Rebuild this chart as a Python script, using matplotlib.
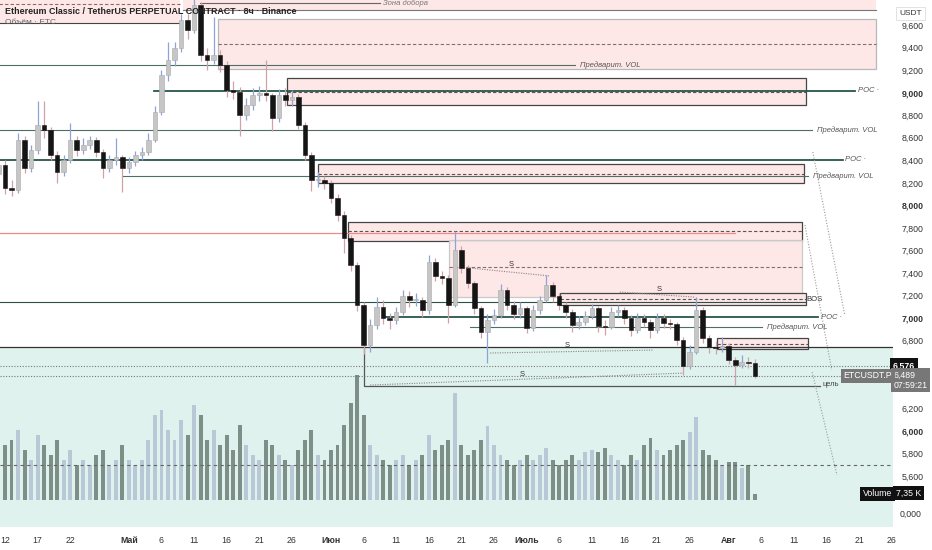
import numpy as np
import pandas as pd
import matplotlib
matplotlib.use('Agg')
import matplotlib.pyplot as plt
from matplotlib.patches import Rectangle

plt.rcParams['font.family'] = ['Liberation Sans Narrow', 'Liberation Sans', 'DejaVu Sans']

# --- данные свечей (дневные) ---
base = pd.Timestamp('2024-04-12')
dates = pd.date_range('2024-04-11', periods=117, freq='D')
close = [8358, 8154, 8136, 8580, 8332, 8491, 8713, 8669, 8447, 8296, 8403, 8580, 8491, 8536, 8580,
         8474, 8332, 8403, 8429, 8332, 8385, 8447, 8474, 8580, 8828, 9157, 9290, 9396, 9644, 9556,
         9777, 9334, 9290, 9334, 9245, 9023, 9006, 8802, 8890, 8979, 8997, 8979, 8775, 8979, 8935,
         8961, 8713, 8447, 8225, 8225, 8199, 8065, 7915, 7711, 7471, 7116, 6762, 6939, 7099, 7001,
         6983, 7054, 7196, 7161, 7161, 7072, 7498, 7374, 7356, 7116, 7604, 7445, 7312, 7090, 6877,
         6983, 7028, 7250, 7116, 7037, 7090, 6912, 7072, 7161, 7294, 7196, 7116, 7054, 6939, 6966,
         7019, 7090, 6930, 6921, 7054, 7072, 7001, 6895, 7001, 6966, 6895, 7001, 6957, 6948, 6806,
         6575, 6700, 7072, 6824, 6744, 6735, 6753, 6629, 6584, 6611, 6602, 6489]
high = [8420, 8400, 8230, 8640, 8620, 8540, 8930, 8930, 8700, 8480, 8450, 8730, 8620, 8600, 8620,
        8610, 8500, 8450, 8600, 8450, 8430, 8480, 8520, 8640, 8880, 9200, 9450, 9450, 9700, 9700,
        9900, 9800, 9400, 9670, 9380, 9280, 9100, 9050, 8950, 9040, 9060, 9290, 9000, 9030, 9040,
        9020, 8990, 8740, 8470, 8300, 8260, 8230, 8100, 7950, 7740, 7500, 7140, 6990, 7190, 7160,
        7050, 7100, 7250, 7240, 7220, 7190, 7560, 7530, 7420, 7380, 7770, 7640, 7470, 7330, 7110,
        7040, 7080, 7300, 7280, 7150, 7140, 7110, 7120, 7200, 7380, 7320, 7220, 7140, 7080, 7020,
        7060, 7130, 7110, 6980, 7100, 7120, 7100, 7030, 7050, 7040, 6990, 7050, 7040, 6990, 6970,
        6830, 6760, 7190, 7100, 6850, 6800, 6830, 6780, 6660, 6670, 6660, 6640]
low = [8250, 8100, 8080, 8110, 8290, 8300, 8460, 8600, 8400, 8200, 8260, 8380, 8440, 8460, 8500,
       8430, 8240, 8300, 8360, 8120, 8290, 8350, 8400, 8450, 8560, 8800, 9100, 9240, 9360, 9480,
       9530, 9280, 9200, 9250, 9180, 8960, 8940, 8620, 8760, 8850, 8930, 8930, 8660, 8740, 8880,
       8880, 8680, 8400, 8130, 8160, 8150, 8020, 7860, 7580, 7420, 7060, 6680, 6700, 6900, 6950,
       6900, 6950, 7030, 7100, 7110, 7010, 7040, 7330, 7300, 6960, 7100, 7400, 7270, 7040, 6820,
       6600, 6950, 7000, 7070, 6990, 7000, 6870, 6890, 7040, 7140, 7140, 7070, 7000, 6880, 6900,
       6940, 6990, 6880, 6850, 6900, 7020, 6950, 6840, 6870, 6920, 6820, 6870, 6910, 6900, 6760,
       6500, 6550, 6680, 6780, 6690, 6680, 6700, 6590, 6410, 6560, 6560, 6470]
volume_k = [55, 67, 74, 86, 61, 49, 80, 67, 55, 74, 49, 61, 43, 49, 43, 55, 61, 43, 49, 67,
            49, 43, 49, 74, 104, 110, 86, 74, 98, 80, 116, 104, 74, 86, 67, 80, 61, 92, 67, 55,
            49, 74, 67, 55, 49, 43, 61, 74, 86, 55, 49, 61, 67, 92, 119, 153, 104, 67, 55, 49,
            43, 49, 55, 43, 49, 55, 80, 61, 67, 74, 131, 67, 55, 61, 74, 91, 67, 55, 49, 43,
            49, 55, 49, 55, 64, 49, 43, 49, 55, 49, 59, 61, 59, 64, 55, 49, 43, 55, 49, 67,
            76, 61, 55, 61, 67, 74, 83, 102, 61, 55, 49, 43, 47, 47, 39, 43, 7.35]
open_ = [8280] + close[:-1]

# --- уровни и зоны (цена, день от 12 апреля) ---
poc = [(9015, 22.9, 130.4), (8403, None, 128.5), (7010, 58.0, 124.7)]
pre_vol = [(9245, None, 87.4), (8669, None, 123.8), (8261, 17.9, 123.2), (6921, 71.3, 116.1)]
red_level = (7755, None, 112.0)
bos_level = (7143, None, 122.7)
target_level = 6400
target_start, target_end, target_top = 55.1, 125.0, 6779
support_level = 6744
last_levels = [6576, 6489]
vol_dash_level = 5700
# (день начала, день конца, низ, верх, середина, рамка)
zones = [(-1.0, 26.8, 9618, 9900, 9786, None),
         (27.3, 133.6, 9733, 9900, None, None),
         (32.7, 133.6, 9210, 9653, 9431, '#b5b5b5'),
         (43.3, 122.9, 8890, 9130, 9006, '#3c3c3c'),
         (48.0, 122.5, 8199, 8367, 8278, '#3c3c3c'),
         (52.6, 122.2, 7684, 7853, 7773, '#3c3c3c'),
         (68.1, 122.2, 7187, 7693, 7453, '#c8c8c8'),
         (85.1, 122.9, 7116, 7223, 7170, '#3c3c3c'),
         (109.2, 123.2, 6726, 6824, 6770, '#3c3c3c')]
sweeps = [((71.3, 7445), (83.6, 7374), (77.6, 7480)),
          ((94.3, 7232), (105.8, 7187), (100.3, 7258)),
          ((74.4, 6691), (99.4, 6717), (86.3, 6762)),
          ((56.0, 6407), (104.0, 6513), (79.4, 6504))]
projections = [((123.9, 8474), (128.8, 7028)),
               ((122.7, 7826), (126.8, 6540)),
               ((123.8, 6522), (127.6, 5609))]

tick_dates = ['2024-04-12', '2024-04-17', '2024-04-22', '2024-05-01', '2024-05-06', '2024-05-11',
              '2024-05-16', '2024-05-21', '2024-05-26', '2024-06-01', '2024-06-06', '2024-06-11',
              '2024-06-16', '2024-06-21', '2024-06-26', '2024-07-01', '2024-07-06', '2024-07-11',
              '2024-07-16', '2024-07-21', '2024-07-26', '2024-08-01', '2024-08-06', '2024-08-11',
              '2024-08-16', '2024-08-21', '2024-08-26']
tick_labels = ['12', '17', '22', 'Май', '6', '11', '16', '21', '26', 'Июн', '6', '11', '16', '21',
               '26', 'Июль', '6', '11', '16', '21', '26', 'Авг', '6', '11', '16', '21', '26']
price_ticks = [5600, 5800, 6000, 6200, 6800, 7000, 7200, 7400, 7600, 7800, 8000, 8200, 8400,
               8600, 8800, 9000, 9200, 9400, 9600]

# --- фигура ---
fig = plt.figure(figsize=(9.32, 5.5), dpi=100)
ax2 = fig.add_axes([0, 23 / 550, 893 / 932, 527 / 550])
ax = fig.add_axes([0, 23 / 550, 893 / 932, 527 / 550], sharex=ax2)
ax.patch.set_visible(False)
xl = (-0.77, 136.2)
yl = (5148, 9822)
ax.set_xlim(*xl)
ax.set_ylim(*yl)
k_per_px = 7.35 / 6
ax2.set_ylim(-27 * k_per_px, 500 * k_per_px)

x = np.array([(d - base).days for d in dates], dtype=float)
o = np.array(open_, float)
c = np.array(close, float)
h = np.array(high, float)
l = np.array(low, float)
up = c >= o

# бирюзовая зона и объём (нижний слой)
ax2.add_patch(Rectangle((xl[0], 5148), xl[1] - xl[0], support_level - 5148,
                        transform=ax.transData, facecolor='#dff2ee', edgecolor='none', zorder=0))
ax2.bar(x, volume_k, width=0.6, color=np.where(up, '#b8c8d6', '#7d8f86'), zorder=2)
ax2.set_yticks([])
ax2.tick_params(axis='x', length=0, labelbottom=False)
for s in ax2.spines.values():
    s.set_visible(False)

# зоны
for x0, x1, y0, y1, mid, edge in zones:
    ax.add_patch(Rectangle((x0, y0), x1 - x0, y1 - y0, facecolor='#fde6e6',
                           edgecolor=edge if edge else 'none', lw=0.9, alpha=0.95, zorder=1))
    if mid is not None:
        ax.plot([x0, x1], [mid, mid], ls=(0, (3, 2)), color='#8a6a6a' if edge != '#3c3c3c' else '#555555',
                lw=0.8, zorder=2)
ax.plot([27.3, 133.6], [9733, 9733], color='#777777', lw=0.8, zorder=2)
ax.plot([29.9, 57.5], [9795, 9795], color='#666666', lw=0.8, zorder=2)
ax.text(58.0, 9795, 'Зона добора', fontsize=5.5, style='italic', color='#777777', va='center', zorder=3)
ax.plot([xl[0], 26.8], [9618, 9618], color='#444444', lw=0.8, zorder=2)

# горизонтальные уровни
for lev, s0, s1 in poc:
    ax.plot([xl[0] if s0 is None else s0, s1], [lev, lev], color='#28564a', lw=1.3, zorder=3)
    ax.text(s1 + 0.4, lev, 'POC ·', fontsize=5.5, color='#555555', va='center', style='italic')
for lev, s0, s1 in pre_vol:
    ax.plot([xl[0] if s0 is None else s0, s1], [lev, lev], color='#4f6f66', lw=0.8, zorder=3)
    ax.text(s1 + 0.8, lev, 'Предварит. VOL', fontsize=5.5, color='#555555', va='center',
            style='italic')
ax.plot([xl[0], red_level[2]], [red_level[0]] * 2, color='#f08a8a', lw=0.9, zorder=3)
ax.plot([xl[0], bos_level[2]], [bos_level[0]] * 2, color='#2f4f46', lw=0.8, zorder=3)
ax.text(bos_level[2] + 0.2, bos_level[0] + 20, 'BOS', fontsize=5.5, color='#333333', va='center')
ax.plot([target_start, target_start, target_end], [target_top, target_level, target_level],
        color='#555555', lw=0.9, zorder=3)
ax.text(target_end + 0.4, target_level + 10, 'цель', fontsize=5.5, color='#444444', va='center')
ax.axhline(support_level, color='#333333', lw=0.9, zorder=3)
for lev in last_levels:
    ax.axhline(lev, color='#777777', lw=0.8, ls=(0, (1, 1.5)), zorder=3)
ax.axhline(vol_dash_level, color='#666666', lw=0.8, ls=(0, (3, 3)), zorder=3)

for (sx0, sy0), (sx1, sy1), (tx, ty) in sweeps:
    ax.plot([sx0, sx1], [sy0, sy1], color='#888888', lw=0.8, ls=(0, (1, 1.2)), zorder=3)
    ax.text(tx, ty, 'S', fontsize=5.5, color='#333333', ha='center', va='center', zorder=4)
for (px0, py0), (px1, py1) in projections:
    ax.plot([px0, px1], [py0, py1], color='#9a9a9a', lw=0.8, ls=(0, (1, 1.5)), zorder=3)

# свечи
ax.vlines(x[up], l[up], h[up], color='#8ea4d8', lw=0.9, zorder=5)
ax.vlines(x[~up], l[~up], h[~up], color='#d1a0aa', lw=0.9, zorder=5)
bot = np.minimum(o, c)
bh = np.maximum(np.abs(c - o), 8)
ax.bar(x[up], bh[up], bottom=bot[up], width=0.7, color='#c6c6c6', edgecolor='#a8a8a8',
       lw=0.4, zorder=6)
ax.bar(x[~up], bh[~up], bottom=bot[~up], width=0.7, color='#151515', edgecolor='#151515',
       lw=0.4, zorder=6)

# оси
for s in ax.spines.values():
    s.set_visible(False)
ax.yaxis.tick_right()
ax.set_yticks(price_ticks)
ax.set_yticklabels([f'{p:,}' for p in price_ticks], fontsize=6.3, color='#333333')
for t, p in zip(ax.get_yticklabels(), price_ticks):
    if p % 1000 == 0:
        t.set_fontweight('bold')
ax.tick_params(axis='y', length=0, pad=6)
ax.set_xticks([(pd.Timestamp(d) - base).days for d in tick_dates])
ax.set_xticklabels(tick_labels, fontsize=6.3, color='#333333')
for t, lab in zip(ax.get_xticklabels(), tick_labels):
    if not lab.isdigit():
        t.set_fontweight('bold')
ax.tick_params(axis='x', length=0, pad=6.5)

# подписи шкалы справа
ax.text(1.007, 0.975, 'USDT', transform=ax.transAxes, fontsize=6, color='#333333', va='center',
        bbox=dict(boxstyle='square,pad=0.35', fc='white', ec='#dddddd', lw=0.6))
ax.text(1.007, 0.025, '0,000', transform=ax.transAxes, fontsize=6.3, color='#333333', va='center')
ax.text(1.0, last_levels[0], f'{last_levels[0]:,}', fontsize=6.3, color='white', va='center',
        fontweight='bold', bbox=dict(boxstyle='square,pad=0.35', fc='#111111', ec='none'),
        transform=ax.get_yaxis_transform(), clip_on=False)
ax.text(1.0 + 0.5 / 893, last_levels[1] - 40, f'{last_levels[1]:,}\n07:59:21', fontsize=6.3,
        color='white', va='center', linespacing=1.1,
        bbox=dict(boxstyle='square,pad=0.3', fc='#777777', ec='none'),
        transform=ax.get_yaxis_transform(), clip_on=False)
ax.text(0.999, last_levels[1], 'ETCUSDT.P', fontsize=6.3, color='white', va='center', ha='right',
        bbox=dict(boxstyle='square,pad=0.3', fc='#777777', ec='none'),
        transform=ax.get_yaxis_transform(), clip_on=False)
ax2.text(0.999, volume_k[-1], 'Volume', fontsize=6.3, color='white', va='center', ha='right',
         bbox=dict(boxstyle='square,pad=0.3', fc='#111111', ec='none'),
         transform=ax2.get_yaxis_transform(), clip_on=False, zorder=10)
ax.text(1.003, 0.0645, '7,35 K', fontsize=6.3, color='white', va='center', transform=ax.transAxes,
        bbox=dict(boxstyle='square,pad=0.3', fc='#111111', ec='none'), clip_on=False, zorder=10)

# заголовок
fig.text(5 / 932, 1 - 11 / 550, 'Ethereum Classic / TetherUS PERPETUAL CONTRACT · 8ч · Binance',
         fontsize=6.4, fontweight='bold', color='#222222', va='center')
fig.text(5 / 932, 1 - 23 / 550, 'Объём · ETC', fontsize=6, color='#666666', va='center')

fig.savefig('out.png', dpi=100)
